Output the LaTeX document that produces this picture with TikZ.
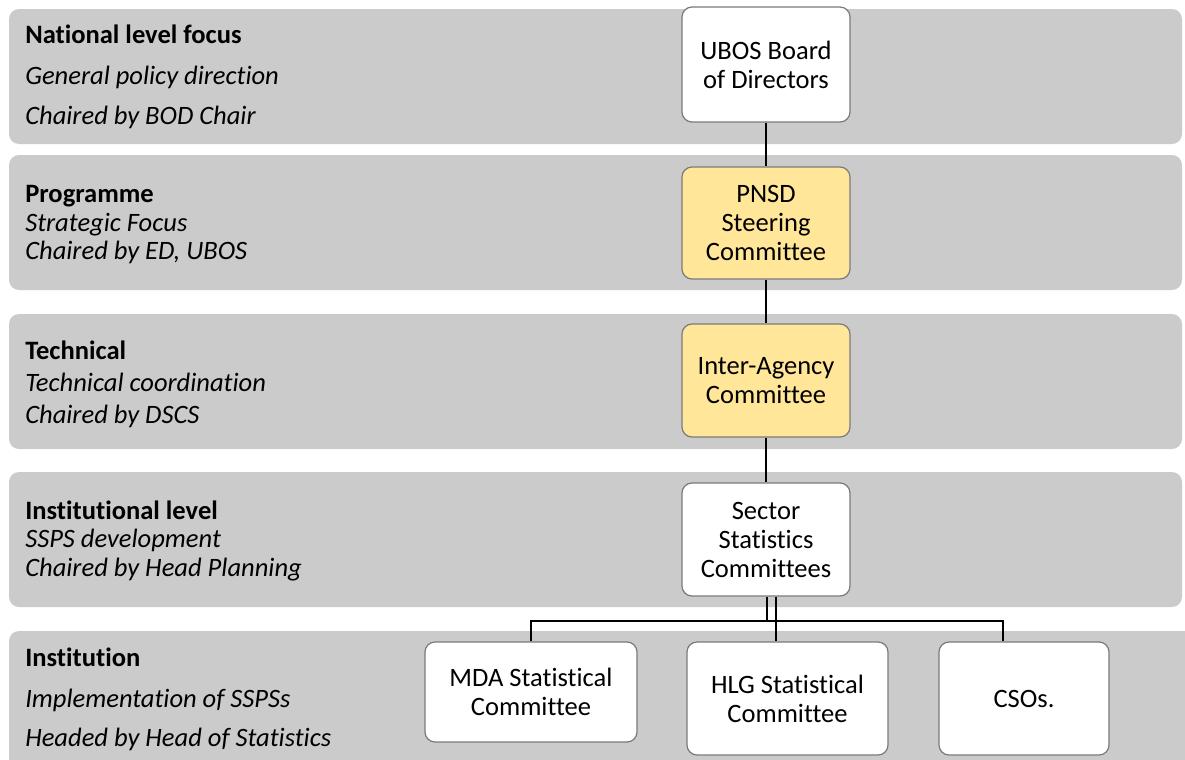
\documentclass[tikz,border=0pt]{standalone}
\usepackage{fontspec}
\setmainfont{Carlito}[Ligatures={NoCommon}]
\definecolor{bandgray}{HTML}{CBCBCB}
\definecolor{boxline}{HTML}{7A7A7A}
\definecolor{gold}{HTML}{FFE699}
\begin{document}
\begin{tikzpicture}[x=0.75pt,y=-0.75pt,
  band/.style={fill=bandgray, draw=none, rounded corners=7.5pt},
  lblb/.style={anchor=base west, inner sep=0pt, font=\fontsize{19.9}{21.75}\selectfont\bfseries},
  lbli/.style={anchor=base west, inner sep=0pt, font=\fontsize{19.9}{21.75}\selectfont\itshape},
  box/.style={draw=boxline, line width=0.9pt, rounded corners=7.5pt, align=center,
    inner sep=0pt, font=\fontsize{19.9}{21.75}\selectfont},
  whitebox/.style={box, fill=white},
  goldbox/.style={box, fill=gold},
  conn/.style={draw=black, line width=1.6pt}
]
\useasboundingbox (0,0) rectangle (1185,760);
% bands
\fill[band] (9,9) rectangle (1182,144);
\fill[band] (9,155) rectangle (1182,290);
\fill[band] (9,314) rectangle (1182,449);
\fill[band] (9,472) rectangle (1182,607);
\fill[band] (9,631) rectangle (1200,790);
% left labels
\node[lblb] (l1a) at (25,43) {National level focus};
\node[lbli] (l1b) at (25,84) {General policy direction};
\node[lbli] (l1c) at (25,124) {Chaired by BOD Chair};
\node[lblb] (l2a) at (25,202) {Programme};
\node[lbli] (l2b) at (25,231) {Strategic Focus};
\node[lbli] (l2c) at (25,259) {Chaired by ED, UBOS};
\node[lblb] (l3a) at (25,359) {Technical};
\node[lbli] (l3b) at (25,391) {Technical coordination};
\node[lbli] (l3c) at (25,423) {Chaired by DSCS};
\node[lblb] (l4a) at (25,519) {Institutional level};
\node[lbli] (l4b) at (25,547) {SSPS development};
\node[lbli] (l4c) at (25,576) {Chaired by Head Planning};
\node[lblb] (l5a) at (25,666) {Institution};
\node[lbli] (l5b) at (25,707) {Implementation of SSPSs};
\node[lbli] (l5c) at (25,746) {Headed by Head of Statistics};
\coordinate (bus) at (767,621);
% boxes
\node[whitebox, minimum width=126pt, minimum height=86.25pt] (ubos) at (766,64.5) {UBOS Board\\of Directors};
\node[goldbox, minimum width=126pt, minimum height=84pt] (pnsd) at (766,223) {PNSD\\Steering\\Committee};
\node[goldbox, minimum width=126pt, minimum height=84.75pt] (iac) at (766,380.5) {Inter-Agency\\Committee};
\node[whitebox, minimum width=126pt, minimum height=84.75pt] (ssc) at (766,539.5) {Sector\\Statistics\\Committees};
\node[whitebox, minimum width=159pt, minimum height=75pt] (mda) at (531,692) {MDA Statistical\\Committee};
\node[whitebox, minimum width=150.75pt, minimum height=84.75pt] (hlg) at (787.5,698.5) {HLG Statistical\\Committee};
\node[whitebox, minimum width=127.5pt, minimum height=84.75pt] (cso) at (1024,698.5) {CSOs.};
% connectors
\draw[conn] (ubos) -- (pnsd);
\draw[conn] (pnsd) -- (iac);
\draw[conn] (iac) -- (ssc);
\draw[conn] ([xshift=0.75pt]ssc.south) -- (bus);
\draw[conn] (mda.north) |- (bus) -| ([xshift=-15.75pt]cso.north);
\draw[conn] ([xshift=7.5pt]ssc.south) -- ([xshift=7.5pt]ssc.south |- hlg.north);
\end{tikzpicture}
\end{document}
